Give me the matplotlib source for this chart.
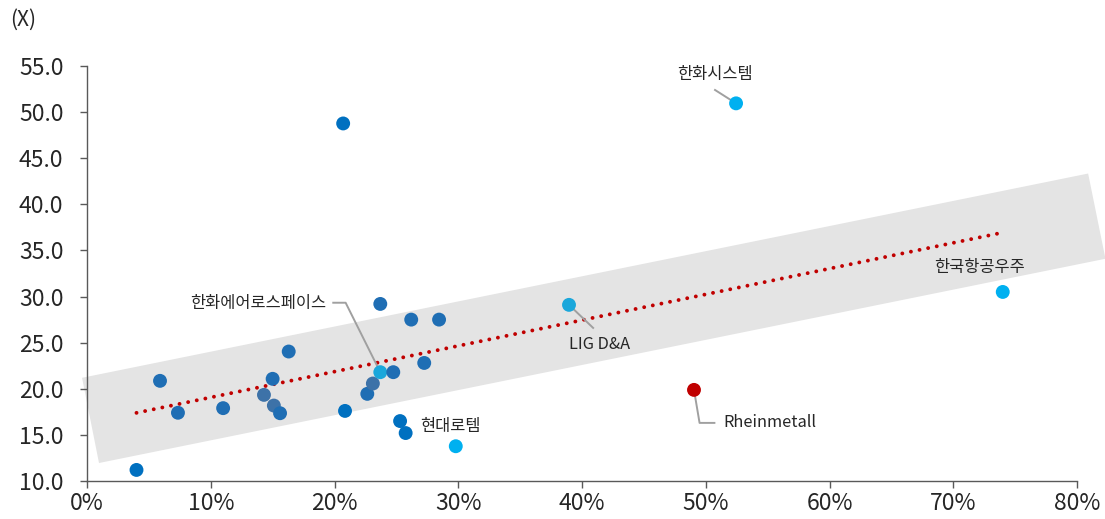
import numpy as np
import matplotlib
matplotlib.use('Agg')
import matplotlib.pyplot as plt
from matplotlib.patches import Polygon
from matplotlib.ticker import FuncFormatter

plt.rcParams['font.family'] = ['Noto Sans CJK KR', 'DejaVu Sans']

# ROE (%) vs P/E (X)
roe = [4.0, 5.9, 7.35, 11.0, 14.3, 15.0, 15.1, 15.6, 16.3, 20.7, 20.85, 22.65,
       23.1, 23.7, 23.7, 24.75, 26.2, 28.45, 27.25, 25.3, 25.75, 29.8, 38.95,
       49.05, 52.45, 74.0]
per = [11.2, 20.86, 17.4, 17.9, 19.34, 21.08, 18.18, 17.35, 24.04, 48.77, 17.6,
       19.45, 20.57, 21.8, 29.2, 21.8, 27.5, 27.5, 22.8, 16.5, 15.2, 13.77, 29.1,
       19.88, 50.95, 30.5]
group = ['dark', 'mid', 'mid', 'mid', 'gray', 'mid', 'gray', 'mid', 'mid', 'dark',
         'dark', 'mid', 'gray', 'kr2', 'mid', 'mid', 'mid', 'mid', 'mid', 'dark',
         'dark', 'kr', 'kr2', 'de', 'kr', 'kr']

# labelled companies: name, point, text position
label_names = ['한화시스템', '한화에어로스페이스', 'LIG D&A', 'Rheinmetall', '한국항공우주', '현대로템']
label_pts = [(52.45, 50.95), (23.7, 21.8), (38.95, 29.1), (49.05, 19.88), (74.0, 30.5), (29.8, 13.77)]
label_txt = [(50.75, 54.1), (19.3, 29.3), (41.4, 24.8), (51.4, 16.3), (72.1, 33.1), (29.4, 15.9)]

# trend line ends and shaded band corners
trend_x = [4.0, 74.0]
trend_y = [17.39, 36.94]
band_x = [-0.4, 80.9, 82.3, 0.97]
band_y = [21.19, 43.34, 34.1, 11.95]

COLORS = {'dark': '#0070C0', 'mid': '#1F6EB4', 'gray': '#3D72A8',
          'kr': '#00B0F0', 'kr2': '#1AA7DB', 'de': '#C00000'}

fig = plt.figure(figsize=(11.05, 5.19), dpi=100)
ax = fig.add_axes([87 / 1105, 1 - 481 / 519, 990 / 1105, 415 / 519])

band = Polygon(np.column_stack([band_x, band_y]), closed=True, facecolor='#E4E4E4',
               edgecolor='none', clip_on=False, zorder=1)
ax.add_patch(band)

ax.plot(trend_x, trend_y, color='#C00000', linestyle=(0, (0.01, 2.25)), linewidth=2.8,
        dash_capstyle='round', zorder=2)

ax.scatter(roe, per, s=100, c=[COLORS[g] for g in group], linewidths=0, zorder=3)

line_kw = dict(color='#A0A0A0', linewidth=1.4, zorder=2.5)
# leader lines
ax.plot([50.75, label_pts[0][0]], [52.4, label_pts[0][1]], **line_kw)
ax.plot([19.9, 20.9, label_pts[1][0]], [29.33, 29.33, label_pts[1][1]], **line_kw)
ax.plot([label_pts[2][0], 40.9], [label_pts[2][1], 26.6], **line_kw)
ax.plot([label_pts[3][0], 49.5, 50.7], [label_pts[3][1], 16.3, 16.3], **line_kw)

align = ['center', 'right', 'center', 'left', 'center', 'center']
for name, (tx, ty), ha in zip(label_names, label_txt, align):
    ax.text(tx, ty, name, ha=ha, va='center', fontsize=11.8, color='#262626')

ax.set_xlim(0, 80)
ax.set_ylim(10, 55)
ax.set_xticks(np.arange(0, 81, 10))
ax.set_yticks(np.arange(10, 56, 5))
ax.xaxis.set_major_formatter(FuncFormatter(lambda v, p: '%d%%' % v))
ax.yaxis.set_major_formatter(FuncFormatter(lambda v, p: '%.1f' % v))
for s in ['top', 'right']:
    ax.spines[s].set_visible(False)
for s in ['left', 'bottom']:
    ax.spines[s].set_color('#595959')
    ax.spines[s].set_linewidth(1.0)
ax.tick_params(axis='both', colors='#595959', labelcolor='#262626', labelsize=16.5,
               length=5, width=1.0)
ax.tick_params(axis='x', pad=3)
ax.tick_params(axis='y', pad=12)

fig.text(10 / 1105, 1 - 20 / 519, '(X)', fontsize=15, color='#262626', va='center')

fig.savefig('out.png', dpi=100)
